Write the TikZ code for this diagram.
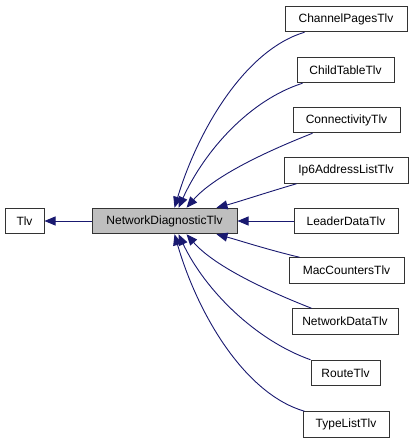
\documentclass[tikz,border=0pt]{standalone}
\usepackage{fontspec}
\setmainfont{Liberation Sans}
\usetikzlibrary{arrows.meta,calc}
\definecolor{edgec}{HTML}{191970}
\definecolor{boxline}{HTML}{333333}
\definecolor{mainfill}{HTML}{BFBFBF}
\tikzset{
  cls/.style={draw=boxline,line width=1pt,fill=white,minimum height=25.5pt,inner sep=0pt,font=\fontsize{12}{14}\selectfont},
  edge/.style={draw=edgec,line width=0.9pt,-{Triangle[length=11pt,width=9pt]}},
}
\begin{document}
\begin{tikzpicture}[x=1pt,y=-1pt]
\useasboundingbox (0,0) rectangle (413,443);
\node[cls,minimum width=39pt] (tlv) at (24.5,221) {Tlv};
\node[cls,fill=mainfill,minimum width=145pt] (ndt) at (164.5,221) {NetworkDiagnosticTlv};
\node[cls,minimum width=122pt] (cp) at (346,19) {ChannelPagesTlv};
\node[cls,minimum width=97pt] (ct) at (345.5,70) {ChildTableTlv};
\node[cls,minimum width=107pt] (co) at (346.5,120) {ConnectivityTlv};
\node[cls,minimum width=124pt] (ip) at (346,170.5) {Ip6AddressListTlv};
\node[cls,minimum width=104pt] (ld) at (346,221) {LeaderDataTlv};
\node[cls,minimum width=115pt] (mc) at (346.5,270.5) {MacCountersTlv};
\node[cls,minimum width=106pt] (nd) at (345,321.5) {NetworkDataTlv};
\node[cls,minimum width=69pt] (rt) at (345.5,373) {RouteTlv};
\node[cls,minimum width=86pt] (tl) at (346,424.5) {TypeListTlv};

\draw[edge] (ndt.west) -- (tlv.east);

\draw[edge] ($(cp.south west)+(20,0)$) .. controls (245,50) and (198,130) .. ($(ndt.north)+(10,0)$);
\draw[edge] ($(ct.south west)+(6,0)$) .. controls (250,100) and (205,150) .. ($(ndt.north)+(14,0)$);
\draw[edge] ($(co.south west)+(20,0)$) .. controls (270,150) and (215,175) .. ($(ndt.north)+(22,0)$);
\draw[edge] ($(ip.south west)+(13,0)$) .. controls (265,193) and (238,202) .. ($(ndt.north)+(52,0)$);
\draw[edge] (ld.west) -- (ndt.east);
\draw[edge] ($(mc.north west)+(11,0)$) .. controls (265,249) and (238,240) .. ($(ndt.south)+(52,0)$);
\draw[edge] ($(nd.north west)+(20,0)$) .. controls (270,292) and (215,267) .. ($(ndt.south)+(22,0)$);
\draw[edge] ($(rt.north west)+(0,0)$) .. controls (255,340) and (205,290) .. ($(ndt.south)+(14,0)$);
\draw[edge] ($(tl.north west)+(2,0)$) .. controls (245,394) and (198,315) .. ($(ndt.south)+(10,0)$);
\end{tikzpicture}
\end{document}
